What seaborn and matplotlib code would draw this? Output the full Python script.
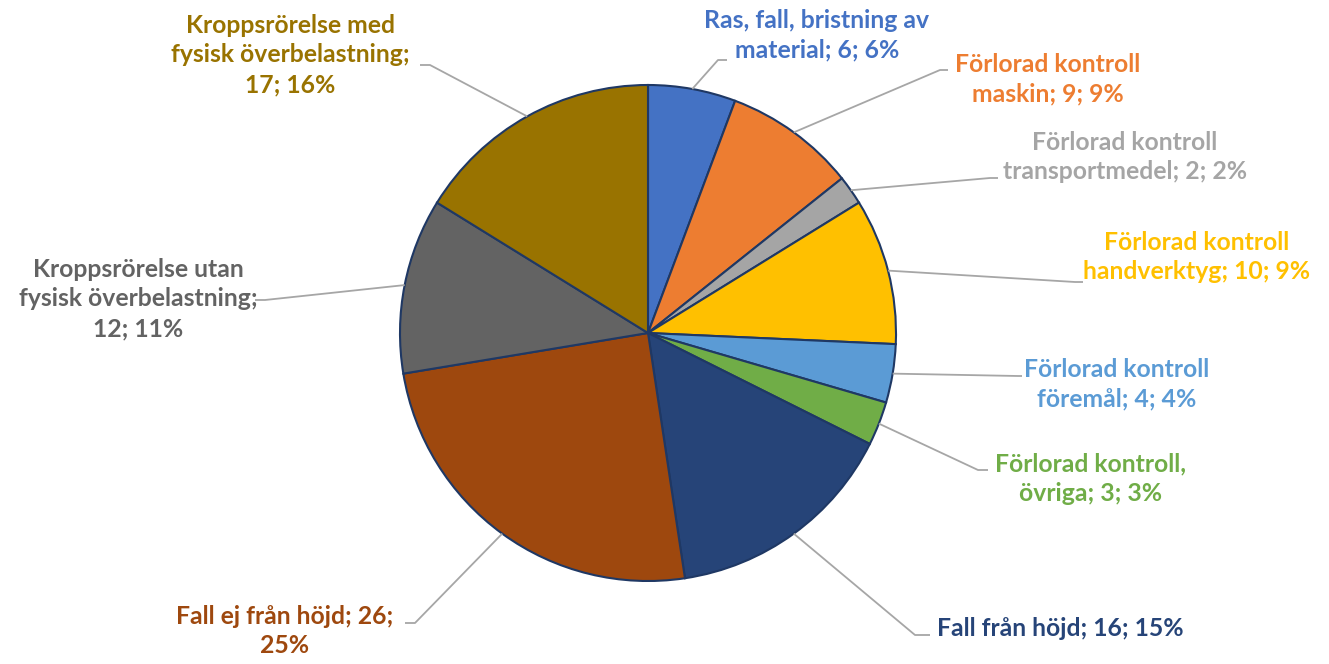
import matplotlib
matplotlib.use("Agg")
import matplotlib.pyplot as plt
import seaborn as sns
import numpy as np

categories = [
    "Ras, fall, bristning av\nmaterial",
    "Förlorad kontroll\nmaskin",
    "Förlorad kontroll\ntransportmedel",
    "Förlorad kontroll\nhandverktyg",
    "Förlorad kontroll\nföremål",
    "Förlorad kontroll,\növriga",
    "Fall från höjd",
    "Fall ej från höjd",
    "Kroppsrörelse utan\nfysisk överbelastning",
    "Kroppsrörelse med\nfysisk överbelastning",
]
values = [6, 9, 2, 10, 4, 3, 16, 26, 12, 17]
percent_labels = ["6%", "9%", "2%", "9%", "4%", "3%", "15%", "25%", "11%", "16%"]
colors = ["#4472C4", "#ED7D31", "#A5A5A5", "#FFC000", "#5B9BD5",
          "#70AD47", "#264478", "#9E480E", "#636363", "#997300"]

sns.set_theme(style="white")
plt.rcParams["font.family"] = ["Lato", "DejaVu Sans"]

W, H = 1329, 664
fig = plt.figure(figsize=(W / 100, H / 100), dpi=100)
ax = fig.add_axes([0, 0, 1, 1])

cx, cy, R = 648, H - 333, 248
wedges, _ = ax.pie(values, colors=colors, startangle=90, counterclock=False,
                   center=(cx, cy), radius=R, frame=True,
                   wedgeprops=dict(edgecolor="#1F3864", linewidth=1.5))
ax.set_xlim(0, W)
ax.set_ylim(0, H)
ax.set_aspect("equal")
ax.axis("off")

# label layout: text block centre (pixel coords, y from top), leader points
label_text = [f"{c}; {v}; {p}" for c, v, p in zip(categories, values, percent_labels)]
label_text[7] = f"{categories[7]}; {values[7]};\n{percent_labels[7]}"
label_text[8] = f"{categories[8]};\n{values[8]}; {percent_labels[8]}"
label_text[9] = f"{categories[9]};\n{values[9]}; {percent_labels[9]}"

text_pos = [(817, 35), (1048, 79), (1125, 157), (1197, 257), (1117, 384),
            (1091, 479), (1060, 628), (285, 631), (138, 299), (290, 55)]
elbow = [(718, 60), (940, 70), (990, 178), (1075, 282), (1018, 376),
         (978, 470), (915, 635), (415, 623), (265, 300), (430, 65)]
tail = [(727, 60), (948, 70), (998, 178), (1083, 282), (1022, 376),
        (988, 470), (930, 635), (405, 623), (255, 300), (420, 65)]

total = sum(values)
start = 90.0
for i, v in enumerate(values):
    span = v / total * 360
    mid = np.deg2rad(start - span / 2)
    start -= span
    ex, ey = cx + R * np.cos(mid), cy + R * np.sin(mid)
    (bx, by), (tx, ty) = elbow[i], tail[i]
    ax.plot([ex, bx, tx], [ey, H - by, H - ty], color="#A6A6A6", lw=1.3,
            solid_capstyle="butt", zorder=1)
    x, y = text_pos[i]
    ax.text(x, H - y, label_text[i], color=colors[i], fontsize=17.8,
            fontweight="bold", ha="center", va="center", linespacing=1.36,
            multialignment="center")

fig.savefig("out.png", dpi=100)
